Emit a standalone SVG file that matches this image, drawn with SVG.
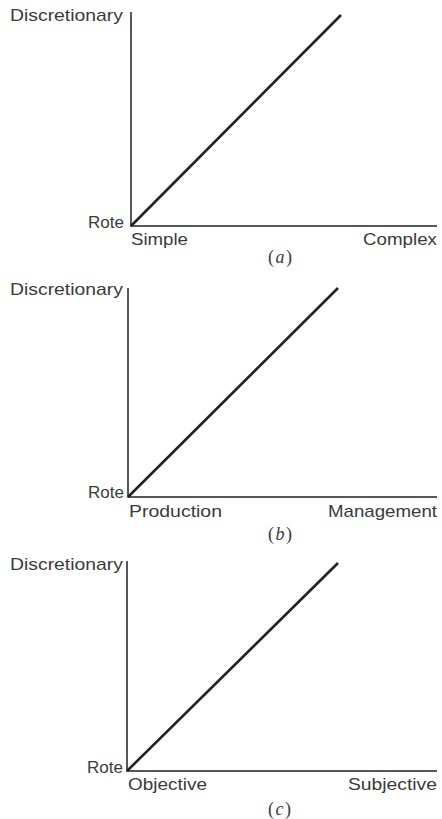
<svg xmlns="http://www.w3.org/2000/svg" width="442" height="819" viewBox="0 0 442 819">
<style>
.lbl{font-family:"Liberation Sans",Arial,sans-serif;font-size:17px;fill:#3a3a3a}
.cap{font-family:"Liberation Serif","Times New Roman",serif;font-size:18px;fill:#3a3a3a;letter-spacing:1.5px}
.it{font-style:italic}
.ax{stroke:#222;stroke-width:1.5;fill:none}
.dg{stroke:#222;stroke-width:2.6;fill:none}
</style>
<rect width="442" height="819" fill="#fff"/>
<g id="panel-a">
<text class="lbl" x="10" y="21" textLength="113" lengthAdjust="spacingAndGlyphs">Discretionary</text>
<text class="lbl" x="88" y="228" textLength="36" lengthAdjust="spacingAndGlyphs">Rote</text>
<text class="lbl" x="131" y="245" textLength="57" lengthAdjust="spacingAndGlyphs">Simple</text>
<text class="lbl" x="363" y="245" textLength="74" lengthAdjust="spacingAndGlyphs">Complex</text>
<text class="cap" x="268" y="263">(<tspan class="it">a</tspan>)</text>
</g>
<g id="panel-b">
<text class="lbl" x="10" y="295" textLength="113" lengthAdjust="spacingAndGlyphs">Discretionary</text>
<text class="lbl" x="88" y="498" textLength="36" lengthAdjust="spacingAndGlyphs">Rote</text>
<text class="lbl" x="129" y="517" textLength="93" lengthAdjust="spacingAndGlyphs">Production</text>
<text class="lbl" x="328" y="517" textLength="109" lengthAdjust="spacingAndGlyphs">Management</text>
<text class="cap" x="268" y="540">(<tspan class="it">b</tspan>)</text>
</g>
<g id="panel-c">
<text class="lbl" x="10" y="570" textLength="113" lengthAdjust="spacingAndGlyphs">Discretionary</text>
<text class="lbl" x="87" y="773" textLength="36" lengthAdjust="spacingAndGlyphs">Rote</text>
<text class="lbl" x="128" y="790" textLength="79" lengthAdjust="spacingAndGlyphs">Objective</text>
<text class="lbl" x="348" y="790" textLength="89" lengthAdjust="spacingAndGlyphs">Subjective</text>
<text class="cap" x="268" y="815">(<tspan class="it">c</tspan>)</text>
</g>
<g id="connectors">
<path class="ax" d="M131,12 V226 H437"/>
<line class="dg" x1="131" y1="226" x2="341" y2="15"/>
<path class="ax" d="M128,288 V497 H437"/>
<line class="dg" x1="128" y1="497" x2="338" y2="288"/>
<path class="ax" d="M127,561 V771 H437"/>
<line class="dg" x1="127" y1="771" x2="338" y2="563"/>
</g>
</svg>
